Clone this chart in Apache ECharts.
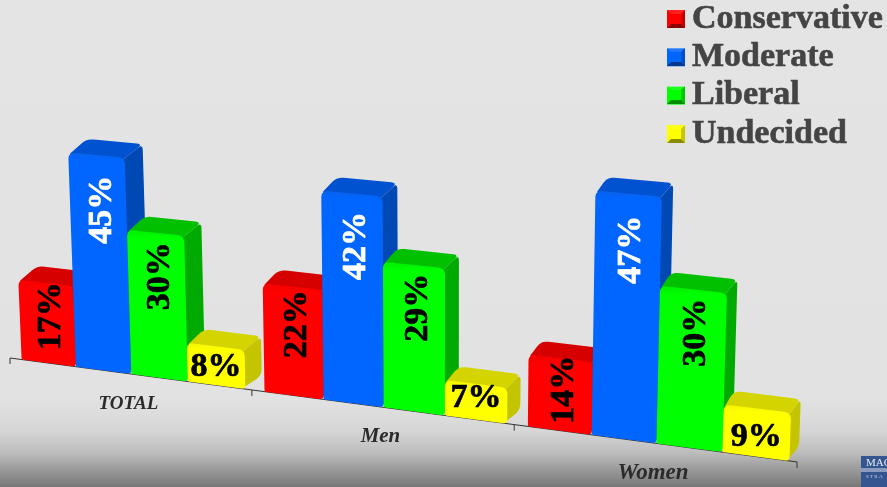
<!DOCTYPE html>
<html>
<head>
<meta charset="utf-8">
<style>html,body{margin:0;padding:0;background:#e4e4e4}#c{width:887px;height:487px}</style>
<script src="https://cdn.jsdelivr.net/npm/echarts@6/dist/echarts.min.js"></script>
</head>
<body>
<div id="c"></div>
<script>
var categories = ['TOTAL', 'Men', 'Women'];
var conservative = [17, 22, 14];
var moderate = [45, 42, 47];
var liberal = [30, 29, 30];
var undecided = [8, 7, 9];

var FONT = '"Liberation Serif","DejaVu Serif",serif';
var GL = 10, GW = 787, GT = 80, GH = 300, VMAX = 60; // 5 px per point on the flat axis

// flat axis position -> perspective picture position
function sx(fx) { var u = (fx - GL) / GW; return 10 + 695 * u + 92 * u * u; }
function baseY(X) { return 358 + 0.1321 * (X - 10); }
function scl(X) { return 1.013 * (4.64 + 0.00083 * X) / 5; }
function proj(fx, fh, depth) {
  var X = sx(fx), H = fh * scl(X);
  var x = X + 0.0001 * (X - 435) * H, y = baseY(X) - H;
  if (depth) { x += (19.5 - 0.0125 * X) * depth; y -= 13.5 * depth; }
  return [x, y];
}
function rounded(pts, radii) {
  var out = [], n = pts.length;
  for (var i = 0; i < n; i++) {
    var p = pts[i], a = pts[(i + n - 1) % n], b = pts[(i + 1) % n], r = radii[i];
    if (!r) { out.push(p); continue; }
    var la = Math.hypot(a[0] - p[0], a[1] - p[1]), lb = Math.hypot(b[0] - p[0], b[1] - p[1]);
    var s = [p[0] + (a[0] - p[0]) * r / la, p[1] + (a[1] - p[1]) * r / la];
    var e = [p[0] + (b[0] - p[0]) * r / lb, p[1] + (b[1] - p[1]) * r / lb];
    for (var t = 0; t <= 1.001; t += 0.2) {
      var m = 1 - t;
      out.push([m * m * s[0] + 2 * m * t * p[0] + t * t * e[0], m * m * s[1] + 2 * m * t * p[1] + t * t * e[1]]);
    }
  }
  return out;
}
function barRenderer(slot, front, side, top, light, labelColor) {
  return function (params, api) {
    var i = api.value(0), v = api.value(1);
    var c = api.coord([i, v]), c0 = api.coord([i, 0]);
    var band = api.size([1, 0])[0];
    var left = c0[0] - band / 2 + band * (0.05 + slot * 0.231), w = band * 0.231;
    var h = c0[1] - c[1];
    var FL = proj(left, 0), FR = proj(left + w, 0), TL = proj(left, h), TR = proj(left + w, h);
    var BL = proj(left, h, 1), BR = proj(left + w, h, 1), BB = proj(left + w, 0, 1);
    var inTR = [TR[0] - 3, TR[1] + 3], inFR = [FR[0] - 3, FR[1] - 1];
    var children = [
      { type: 'polygon', shape: { points: rounded([inTR, BR, BB, inFR], [0, 6, 7, 0]) },
        style: { fill: side } },
      { type: 'polygon', shape: { points: rounded([[TL[0] + 1, TL[1] + 2], BL, BR, inTR], [2, 7, 6, 0]) },
        style: { fill: top } },
      { type: 'polygon', shape: { points: rounded([TL, TR, FR, FL], [7, 7, 4, 2]) },
        style: { fill: { type: 'linear', x: 0, y: 0, x2: 0, y2: 1, colorStops: [
          { offset: 0, color: light }, { offset: Math.min(0.12, 8 / h), color: front }, { offset: 1, color: front }] } } }
    ];
    var cx = left + w / 2, cX = sx(cx), Hh = h * scl(cX);
    var rot = v >= 10;
    var dist = rot ? 21 + 0.75 * v : 14 + (v - 7) * 7.5;
    var lean = 0.0001 * (cX - 435) * (Hh - dist);
    children.push({
      type: 'text', x: cX + lean + (rot ? 4 : 0), y: baseY(cX) - Hh + dist,
      rotation: rot ? Math.PI / 2 : 0,
      style: { text: v + '%', fill: labelColor, stroke: labelColor, lineWidth: 0.7,
        align: 'center', verticalAlign: 'middle', font: 'bold 34px ' + FONT }
    });
    return { type: 'group', children: children };
  };
}
function axisRenderer(params, api) {
  var i = api.value(0), c0 = api.coord([i, 0]), band = api.size([1, 0])[0];
  var a = proj(c0[0] - band / 2, 0), b = proj(c0[0] + band / 2, 0), m = sx(c0[0]);
  var kids = [
    { type: 'line', shape: { x1: a[0], y1: a[1], x2: b[0], y2: b[1] }, style: { stroke: '#333', lineWidth: 1 } },
    { type: 'line', shape: { x1: b[0], y1: b[1], x2: b[0], y2: b[1] + 6 }, style: { stroke: '#333', lineWidth: 1 } },
    { type: 'text', x: m, y: baseY(m) + 30,
      style: { text: categories[i], fill: '#2b2b2b', align: 'center', verticalAlign: 'middle',
        font: 'italic bold ' + (19 + (m - 131) * 0.0076).toFixed(1) + 'px ' + FONT } }
  ];
  if (i === 0) kids.push({ type: 'line', shape: { x1: a[0], y1: a[1], x2: a[0], y2: a[1] + 6 }, style: { stroke: '#333', lineWidth: 1 } });
  return { type: 'group', children: kids };
}
function pairs(arr) { return arr.map(function (v, i) { return [i, v]; }); }
function barSeries(name, arr, slot, front, side, top, light, lab) {
  return { name: name, type: 'custom', coordinateSystem: 'cartesian2d', clip: false,
    itemStyle: { color: front }, encode: { x: 0, y: 1 },
    data: pairs(arr), renderItem: barRenderer(slot, front, side, top, light, lab) };
}
function bevel(x, y, s) {
  var d = 4, R = x + s, B = y + s;
  function tri(pts, fill) { return { type: 'polygon', shape: { points: pts }, style: { fill: fill }, silent: true, z: 10 }; }
  return [
    tri([[x, B], [R, B], [R - d, B - d], [x + d, B - d]], 'rgba(0,0,0,.45)'),
    tri([[R, y], [R, B], [R - d, B - d], [R - d, y + d]], 'rgba(0,0,0,.22)'),
    tri([[x, y], [R, y], [R - d, y + d], [x + d, y + d]], 'rgba(255,255,255,.12)')
  ];
}
var legendMarks = [];
[10, 48, 86, 125].forEach(function (y) { legendMarks = legendMarks.concat(bevel(667, y, 18)); });

var chart = echarts.init(document.getElementById('c'), null, { renderer: 'canvas' });
chart.setOption({
  animation: false,
  backgroundColor: { type: 'linear', x: 0, y: 0, x2: 0, y2: 1, colorStops: [
    { offset: 0, color: '#e4e4e4' }, { offset: 0.82, color: '#e2e2e2' }, { offset: 0.885, color: '#d6d6d6' },
    { offset: 0.93, color: '#bcbcbc' }, { offset: 1, color: '#777777' }] },
  grid: { left: GL, width: GW, top: GT, height: GH },
  xAxis: { type: 'category', data: categories, show: false },
  yAxis: { type: 'value', min: 0, max: VMAX, interval: 10, show: false },
  legend: {
    orient: 'vertical', left: 667, top: -5, padding: 0, itemWidth: 18, itemHeight: 18, itemGap: -9.7,
    icon: 'rect', selectedMode: false,
    data: ['Conservative', 'Moderate', 'Liberal', 'Undecided'],
    textStyle: { color: '#444444', fontFamily: FONT, fontWeight: 'bold', fontSize: 34, lineHeight: 36,
      padding: [12, 0, 0, 2], textBorderColor: '#444444', textBorderWidth: 0.6 }
  },
  graphic: legendMarks.concat([
    { type: 'rect', shape: { x: 861, y: 456, width: 26, height: 31 }, style: { fill: '#34558f' }, silent: true },
    { type: 'rect', shape: { x: 861, y: 468, width: 26, height: 4 }, style: { fill: '#8c9cc0' }, silent: true },
    { type: 'text', x: 866, y: 458, style: { text: 'MAG', fill: '#e8ecf4', font: '11px ' + FONT }, silent: true },
    { type: 'text', x: 866, y: 474, style: { text: 'S T R A', fill: '#c8d0e0', font: '5px ' + FONT }, silent: true }
  ]),
  series: [
    { name: 'axis', type: 'custom', coordinateSystem: 'cartesian2d', clip: false, encode: { x: 0, y: 1 },
      data: pairs([0, 0, 0]), renderItem: axisRenderer },
    barSeries('Conservative', conservative, 0, '#ff0000', '#c80000', '#d60000', '#f40000', '#000000'),
    barSeries('Moderate', moderate, 1, '#0066ff', '#0048b4', '#0052d0', '#0a62ee', '#ffffff'),
    barSeries('Liberal', liberal, 2, '#00ff00', '#00aa00', '#00c000', '#00f000', '#000000'),
    barSeries('Undecided', undecided, 3, '#ffff00', '#c4c400', '#d4d400', '#f4f400', '#000000')
  ]
});
</script>
</body>
</html>
